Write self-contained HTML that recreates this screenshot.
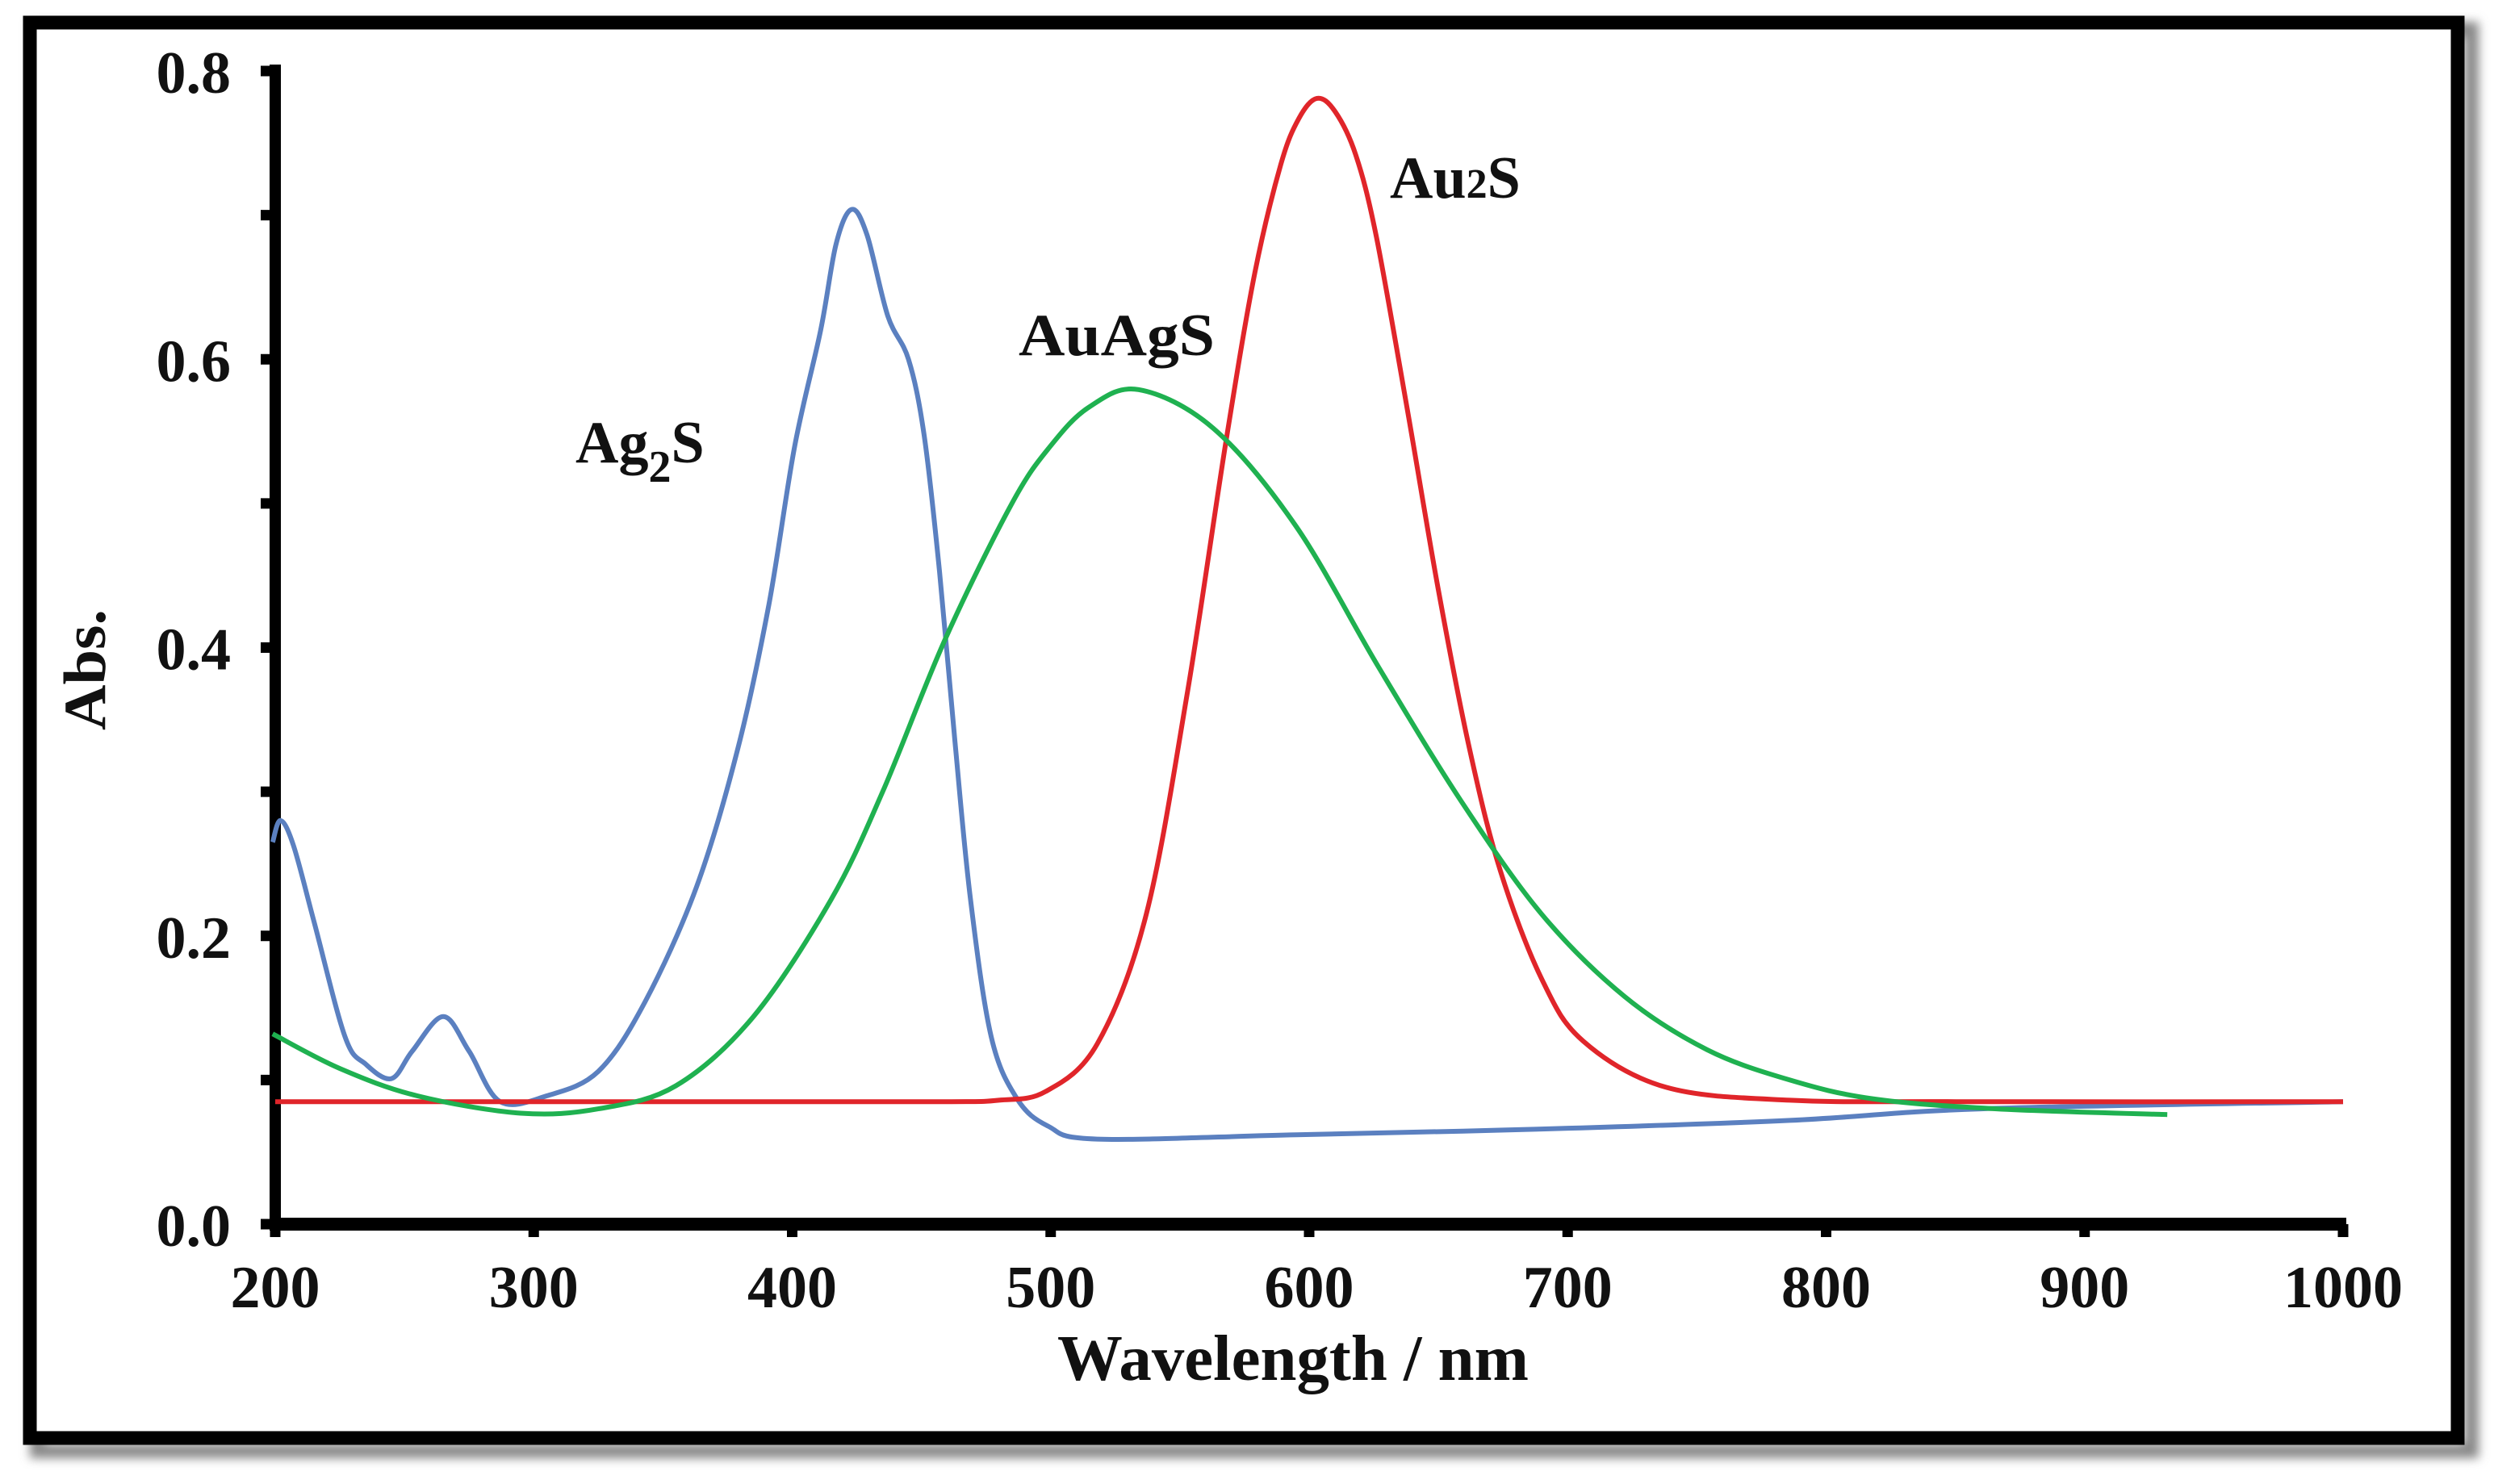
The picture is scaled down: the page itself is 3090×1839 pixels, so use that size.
<!DOCTYPE html>
<html><head><meta charset="utf-8"><style>
html,body{margin:0;padding:0;background:#fff;}
svg{display:block;}
text{font-family:"Liberation Serif",serif;font-weight:bold;fill:#111;}
</style></head>
<body>
<svg id="chart" width="3090" height="1839" viewBox="0 0 3090 1839" xmlns="http://www.w3.org/2000/svg">
<defs><filter id="sh" x="-5%" y="-5%" width="110%" height="110%"><feGaussianBlur stdDeviation="6"/></filter></defs>
<rect x="46" y="36" width="3016" height="1762" fill="none" stroke="#888" stroke-width="18" filter="url(#sh)"/>
<rect x="37" y="28" width="3008" height="1754" fill="#fff" stroke="#000" stroke-width="17"/>
<g id="axes"></g>
<g id="series"></g>
<text x="1602" y="1710" font-size="80" text-anchor="middle" textLength="584" lengthAdjust="spacingAndGlyphs">Wavelength / nm</text>
<text transform="translate(130,830) rotate(-90)" font-size="74" text-anchor="middle" textLength="150" lengthAdjust="spacingAndGlyphs">Abs.</text>
<text x="713" y="573" font-size="74">Ag<tspan font-size="56" dy="24">2</tspan><tspan dy="-24">S</tspan></text>
<text x="1262" y="440" font-size="74" textLength="243" lengthAdjust="spacingAndGlyphs">AuAgS</text>
<text x="1722" y="245" font-size="74">Au<tspan font-size="52">2</tspan>S</text>
</svg>
<script>
const xTicks = [200,300,400,500,600,700,800,900,1000];
const yTicks = [0.0,0.2,0.4,0.6,0.8];
const yMinor = [0.1,0.3,0.5,0.7];
const ag2sWl  = [199,202,207,215,227,235,245,253,265,275,287,305,325,343,363,379,391,401,411,417,423,429,437,445,451,457,463,469,477,487,499,518,595,690,786,860,1000];
const ag2sAbs = [0.265,0.28,0.263,0.21,0.13,0.111,0.101,0.12,0.144,0.12,0.085,0.089,0.106,0.154,0.234,0.33,0.43,0.54,0.62,0.68,0.704,0.686,0.63,0.60,0.548,0.453,0.334,0.225,0.13,0.087,0.068,0.059,0.062,0.066,0.072,0.080,0.085];
const auagsWl  = [199,225,255,295,325,355,385,415,435,459,485,500,515,534,563,595,627,659,690,722,754,786,818,866,932];
const auagsAbs = [0.132,0.108,0.089,0.077,0.080,0.096,0.144,0.225,0.30,0.405,0.50,0.54,0.567,0.579,0.552,0.484,0.386,0.293,0.215,0.158,0.121,0.100,0.087,0.080,0.076];
const au2sWl  = [200,300,400,460,480,498,518,537,553,568,579,589,596,603,610,618,626,638,650,662,674,690,706,738,786,850,1000];
const au2sAbs = [0.085,0.085,0.085,0.085,0.086,0.092,0.125,0.215,0.37,0.545,0.66,0.735,0.767,0.781,0.772,0.742,0.685,0.565,0.44,0.33,0.245,0.17,0.127,0.095,0.086,0.085,0.085];

const X0=341, X1=2903, Y0=1517, Y1=88;
function sx(w){return X0+(w-200)/800*(X1-X0);}
function sy(a){return Y0-(a/0.8)*(Y0-Y1);}
const NS="http://www.w3.org/2000/svg";
const axes=document.getElementById('axes');
function mk(tag,attrs,parent){const e=document.createElementNS(NS,tag);for(const k in attrs)e.setAttribute(k,attrs[k]);parent.appendChild(e);return e;}

let ya=mk('line',{x1:X0,y1:80,x2:X0,y2:Y0+8,stroke:'#000','stroke-width':14},axes);


let xa=mk('line',{x1:X0-7,y1:Y0,x2:X1+4,y2:Y0,stroke:'#000','stroke-width':16},axes);



yTicks.concat(yMinor).forEach(v=>{
  const t=mk('line',{x1:X0-18,y1:sy(v),x2:X0,y2:sy(v),stroke:'#000','stroke-width':13},axes);
  
  
});
yTicks.forEach(v=>{
  const t=mk('text',{x:286,y:sy(v)+27,'font-size':74,'text-anchor':'end'},axes);
  t.textContent=v.toFixed(1);
  
  
});
xTicks.forEach(v=>{
  const t=mk('line',{x1:sx(v),y1:Y0,x2:sx(v),y2:Y0+16,stroke:'#000','stroke-width':13},axes);
  
  
  const l=mk('text',{x:sx(v),y:1620,'font-size':74,'text-anchor':'middle'},axes);
  l.textContent=String(v);
  
  
});

function pathFor(ws,as){
  const p=ws.map((w,i)=>[sx(w),sy(as[i])]);
  let d='M'+p[0][0].toFixed(1)+','+p[0][1].toFixed(1);
  for(let i=0;i<p.length-1;i++){
    const p0=p[Math.max(0,i-1)],p1=p[i],p2=p[i+1],p3=p[Math.min(p.length-1,i+2)];
    const c1=[p1[0]+(p2[0]-p0[0])/6,p1[1]+(p2[1]-p0[1])/6];
    const c2=[p2[0]-(p3[0]-p1[0])/6,p2[1]-(p3[1]-p1[1])/6];
    d+=' C'+c1.map(n=>n.toFixed(1)).join(',')+' '+c2.map(n=>n.toFixed(1)).join(',')+' '+p2[0].toFixed(1)+','+p2[1].toFixed(1);
  }
  return d;
}
const ser=document.getElementById('series');
let s1=mk('path',{d:pathFor(ag2sWl,ag2sAbs),fill:'none',stroke:'#5b80c0','stroke-width':6,'stroke-linejoin':'round'},ser);


let s3=mk('path',{d:pathFor(au2sWl,au2sAbs),fill:'none',stroke:'#e0252a','stroke-width':6,'stroke-linejoin':'round'},ser);


let s2=mk('path',{d:pathFor(auagsWl,auagsAbs),fill:'none',stroke:'#1fb150','stroke-width':6,'stroke-linejoin':'round'},ser);


</script>
</body></html>
